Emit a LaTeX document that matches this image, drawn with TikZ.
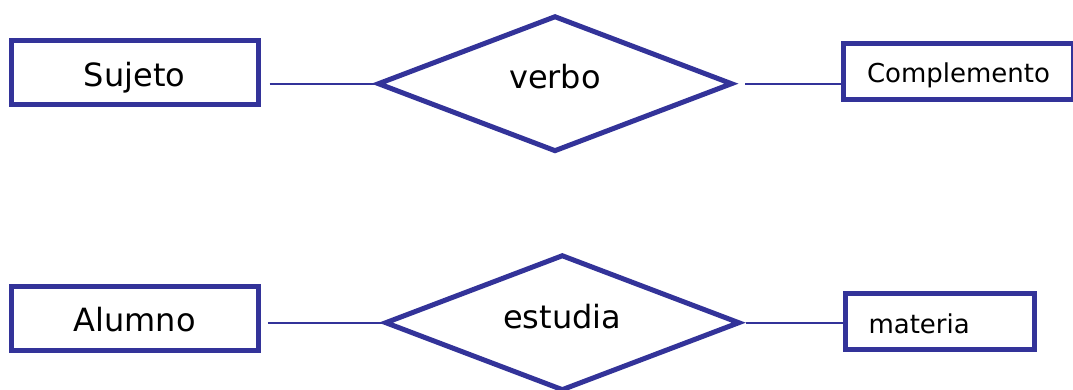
\documentclass[tikz,border=0pt]{standalone}
\usepackage{fontspec}
\setmainfont{DejaVu Sans}
\usepackage{tikz}
\usetikzlibrary{shapes.geometric}
\definecolor{azul}{RGB}{51,51,153}
\tikzset{
	% ---- default
	every node/.style={font=\fontsize{32}{38}\selectfont},
	% ---- custom
	entidad/.style={draw=azul, line width=5pt, rectangle, inner sep=0pt,
		minimum width=247pt, minimum height=64pt,
		text height=27pt, text depth=0pt},
	relacion/.style={draw=azul, line width=5pt, diamond, aspect=2.6, inner sep=0pt,
		minimum width=355pt, minimum height=136pt,
		text height=19pt, text depth=8.4pt},
	atributo/.style={draw=azul, line width=5pt, rectangle, anchor=west,
		inner xsep=23pt, inner ysep=0pt, minimum height=56pt, align=left,
		font=\fontsize{26}{31}\selectfont,
		text height=23pt, text depth=0pt},
	enlace/.style={draw=azul, line width=2pt},
}

\begin{document}
\begin{tikzpicture}[x=1pt, y=-1pt]

% marco %{{{2

	\useasboundingbox (0,0) rectangle (1073,390);

% oracion %{{{2

	\node[entidad] (sujeto) at (134.5,73) {Sujeto};
	\node[relacion] (verbo) at (555,83.7) {verbo};
	\node[atributo, minimum width=230pt] (complemento) at (841,71.3) {Complemento};

% ejemplo %{{{2

	\node[entidad] (alumno) at (134.8,318.3) {Alumno};
	\node[relacion] (estudia) at (562.3,322.7) {estudia};
	\node[atributo, text width=143pt] (materia) at (843,321.6) {materia};

% enlaces %{{{2

	\draw[enlace, shorten <=9pt] (sujeto.east |- verbo.west) -- (verbo.west);
	\draw[enlace, shorten <=10pt] (verbo.east) -- (complemento.west |- verbo.east);

	\draw[enlace, shorten <=7pt] (alumno.east |- estudia.west) -- (estudia.west);
	\draw[enlace, shorten <=4pt] (estudia.east) -- (materia.west |- estudia.east);

% closing %{{{2

\end{tikzpicture}
\end{document}
